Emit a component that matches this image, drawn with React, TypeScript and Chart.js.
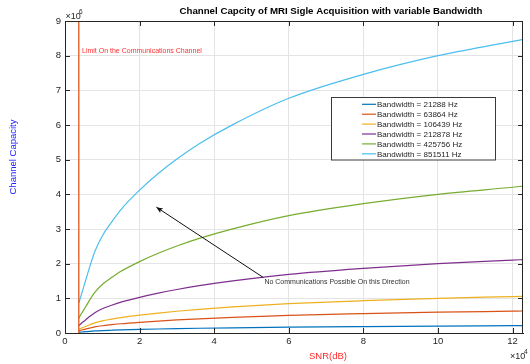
import React, { useEffect, useRef } from 'react';
import { Chart, registerables } from 'chart.js';

Chart.register(...registerables);

// SNR values (x axis, raw units; axis shows ×10^4)
const snr = [3700, 4500, 5500, 6600, 8000, 10000, 12500, 15000, 20000, 25000, 30000, 36000, 45000, 60000, 80000, 100000, 120000, 122800];

// Channel capacity per bandwidth (raw units; axis shows ×10^6)
const cap21288 = [21500, 28750, 37500, 47500, 58750, 70000, 80000, 89000, 103000, 115000, 125500, 136500, 150250, 169250, 186500, 200000, 210250, 211750];
const cap63864 = [64500, 86250, 112500, 142500, 176250, 210000, 240000, 267000, 309000, 345000, 376500, 409500, 450750, 507750, 559500, 600000, 630750, 635250];
const cap106439 = [107500, 143750, 187500, 237500, 293750, 350000, 400000, 445000, 515000, 575000, 627500, 682500, 751250, 846250, 932500, 1000000, 1051250, 1058750];
const cap212878 = [215000, 287500, 375000, 475000, 587500, 700000, 800000, 890000, 1030000, 1150000, 1255000, 1365000, 1502500, 1692500, 1865000, 2000000, 2102500, 2117500];
const cap425756 = [430000, 575000, 750000, 950000, 1175000, 1400000, 1600000, 1780000, 2060000, 2300000, 2510000, 2730000, 3005000, 3385000, 3730000, 4000000, 4205000, 4235000];
const cap851511 = [860000, 1150000, 1500000, 1900000, 2350000, 2800000, 3200000, 3560000, 4120000, 4600000, 5020000, 5460000, 6010000, 6770000, 7460000, 8000000, 8410000, 8470000];

const seriesLabels = [
  'Bandwidth = 21288 Hz',
  'Bandwidth = 63864 Hz',
  'Bandwidth = 106439 Hz',
  'Bandwidth = 212878 Hz',
  'Bandwidth = 425756 Hz',
  'Bandwidth = 851511 Hz',
];
const seriesValues = [cap21288, cap63864, cap106439, cap212878, cap425756, cap851511];
const seriesColors = ['#0072BD', '#D95319', '#EDB120', '#7E2F8E', '#77AC30', '#4DBEEE'];

const limitSnr = 3700;
const limitRange = [0, 9000000];

const xTickValues = [0, 20000, 40000, 60000, 80000, 100000, 120000];
const yTickValues = [0, 1000000, 2000000, 3000000, 4000000, 5000000, 6000000, 7000000, 8000000, 9000000];

const titleText = 'Channel Capcity of MRI Sigle Acquisition with variable Bandwidth';
const xTitle = 'SNR(dB)';
const yTitle = 'Channel Capacity';
const limitText = 'Limit On the Communications Channel';
const arrowText = 'No Communications Possible On this Direction';

const FONT = '"Liberation Sans", Arial, Helvetica, sans-serif';
const AXIS = '#262626';

const decorPlugin = {
  id: 'decor',
  afterDraw(chart: any) {
    const ctx = chart.ctx as CanvasRenderingContext2D;
    const { left, right, top, bottom } = chart.chartArea;
    const xs = chart.scales.x;
    const ys = chart.scales.y;
    ctx.save();

    // box top/right
    ctx.strokeStyle = AXIS;
    ctx.lineWidth = 1;
    ctx.beginPath();
    ctx.moveTo(left, top + 0.5);
    ctx.lineTo(right, top + 0.5);
    ctx.moveTo(right - 0.5, top);
    ctx.lineTo(right - 0.5, bottom);
    ctx.stroke();

    // inward ticks
    ctx.beginPath();
    xTickValues.forEach((v) => {
      const px = Math.round(xs.getPixelForValue(v)) + 0.5;
      ctx.moveTo(px, bottom);
      ctx.lineTo(px, bottom - 5);
      ctx.moveTo(px, top);
      ctx.lineTo(px, top + 5);
    });
    yTickValues.forEach((v) => {
      const py = Math.round(ys.getPixelForValue(v)) + 0.5;
      ctx.moveTo(left, py);
      ctx.lineTo(left + 5, py);
      ctx.moveTo(right, py);
      ctx.lineTo(right - 5, py);
    });
    ctx.stroke();

    // title
    ctx.fillStyle = '#000';
    ctx.font = `bold 9.7px ${FONT}`;
    ctx.textAlign = 'center';
    ctx.textBaseline = 'middle';
    ctx.fillText(titleText, 331, 11.5);

    // exponent labels
    ctx.fillStyle = AXIS;
    ctx.font = `9px ${FONT}`;
    ctx.textAlign = 'left';
    ctx.fillText('\u00d710', 65.5, 17);
    ctx.font = `6.5px ${FONT}`;
    ctx.fillText('6', 79, 12);
    ctx.font = `9px ${FONT}`;
    ctx.fillText('\u00d710', 510, 357);
    ctx.font = `6.5px ${FONT}`;
    ctx.fillText('4', 524, 352);

    // axis titles
    ctx.fillStyle = '#ff2a2a';
    ctx.font = `9.5px ${FONT}`;
    ctx.textAlign = 'center';
    ctx.fillText(xTitle, 328, 356);

    ctx.save();
    ctx.translate(13.5, 157);
    ctx.rotate(-Math.PI / 2);
    ctx.fillStyle = '#2020ff';
    ctx.fillText(yTitle, 0, 0);
    ctx.restore();

    // limit text
    ctx.fillStyle = '#ff3030';
    ctx.font = `7px ${FONT}`;
    ctx.textAlign = 'left';
    ctx.fillText(limitText, 82, 51);

    // arrow annotation
    const hx = xs.getPixelForValue(24500);
    const hy = ys.getPixelForValue(3630000);
    const tx = xs.getPixelForValue(53200);
    const ty = ys.getPixelForValue(1600000);
    ctx.strokeStyle = '#111';
    ctx.lineWidth = 1;
    ctx.beginPath();
    ctx.moveTo(tx, ty);
    ctx.lineTo(hx, hy);
    ctx.stroke();
    const ang = Math.atan2(hy - ty, hx - tx);
    ctx.fillStyle = '#111';
    ctx.beginPath();
    ctx.moveTo(hx, hy);
    ctx.lineTo(hx - 7 * Math.cos(ang - 0.4), hy - 7 * Math.sin(ang - 0.4));
    ctx.lineTo(hx - 5 * Math.cos(ang), hy - 5 * Math.sin(ang));
    ctx.lineTo(hx - 7 * Math.cos(ang + 0.4), hy - 7 * Math.sin(ang + 0.4));
    ctx.closePath();
    ctx.fill();
    ctx.fillStyle = '#333';
    ctx.font = `7px ${FONT}`;
    ctx.textAlign = 'left';
    ctx.fillText(arrowText, tx + 1, ty + 5);

    // legend
    const lx = 331.5, ly = 97.5, lw = 164, lh = 62.5;
    ctx.fillStyle = '#fff';
    ctx.fillRect(lx, ly, lw, lh);
    ctx.strokeStyle = '#3a3a3a';
    ctx.lineWidth = 1;
    ctx.strokeRect(lx, ly, lw, lh);
    ctx.font = `8px ${FONT}`;
    ctx.textAlign = 'left';
    seriesLabels.forEach((lab, i) => {
      const cy = 104.3 + i * 9.9;
      ctx.strokeStyle = seriesColors[i];
      ctx.lineWidth = 1.2;
      ctx.beginPath();
      ctx.moveTo(362, cy);
      ctx.lineTo(376, cy);
      ctx.stroke();
      ctx.fillStyle = AXIS;
      ctx.fillText(lab, 377, cy + 0.5);
    });

    ctx.restore();
  },
};

export default function App() {
  const ref = useRef<HTMLCanvasElement | null>(null);
  useEffect(() => {
    document.body.style.margin = '0';
    if (!ref.current) return;
    const datasets: any[] = seriesValues.map((vals, i) => ({
      label: seriesLabels[i],
      data: snr.map((x, j) => ({ x, y: vals[j] })),
      borderColor: seriesColors[i],
      backgroundColor: seriesColors[i],
      borderWidth: 1.2,
      pointRadius: 0,
      cubicInterpolationMode: 'monotone',
      fill: false,
    }));
    datasets.unshift({
      label: 'limit',
      data: limitRange.map((y) => ({ x: limitSnr, y })),
      borderColor: '#E0561B',
      borderWidth: 1.3,
      pointRadius: 0,
      fill: false,
    });
    const chart = new Chart(ref.current, {
      type: 'line',
      data: { datasets },
      options: {
        animation: false,
        responsive: false,
        devicePixelRatio: 1,
        layout: { padding: { top: 21, right: 7, left: 0, bottom: 0 } },
        plugins: { legend: { display: false }, tooltip: { enabled: false }, title: { display: false } },
        scales: {
          x: {
            type: 'linear',
            min: 0,
            max: 122800,
            afterBuildTicks: (s: any) => { s.ticks = xTickValues.map((value) => ({ value })); },
            afterFit: (s: any) => { s.height = 31; },
            ticks: {
              callback: (v: any) => String(Number(v) / 10000),
              color: AXIS,
              font: { family: FONT, size: 9.5 },
              padding: 3,
              maxRotation: 0,
            },
            grid: { color: '#e4e4e4', drawTicks: false, lineWidth: 1 },
            border: { display: true, color: AXIS, width: 1 },
          },
          y: {
            type: 'linear',
            min: 0,
            max: 9000000,
            afterBuildTicks: (s: any) => { s.ticks = yTickValues.map((value) => ({ value })); },
            afterFit: (s: any) => { s.width = 65; },
            ticks: {
              callback: (v: any) => String(Number(v) / 1000000),
              color: AXIS,
              font: { family: FONT, size: 9.5 },
              padding: 4,
            },
            grid: { color: '#e4e4e4', drawTicks: false, lineWidth: 1 },
            border: { display: true, color: AXIS, width: 1 },
          },
        },
      },
      plugins: [decorPlugin],
    });
    return () => chart.destroy();
  }, []);
  return <canvas ref={ref} width={530} height={364} style={{ display: 'block' }} />;
}
